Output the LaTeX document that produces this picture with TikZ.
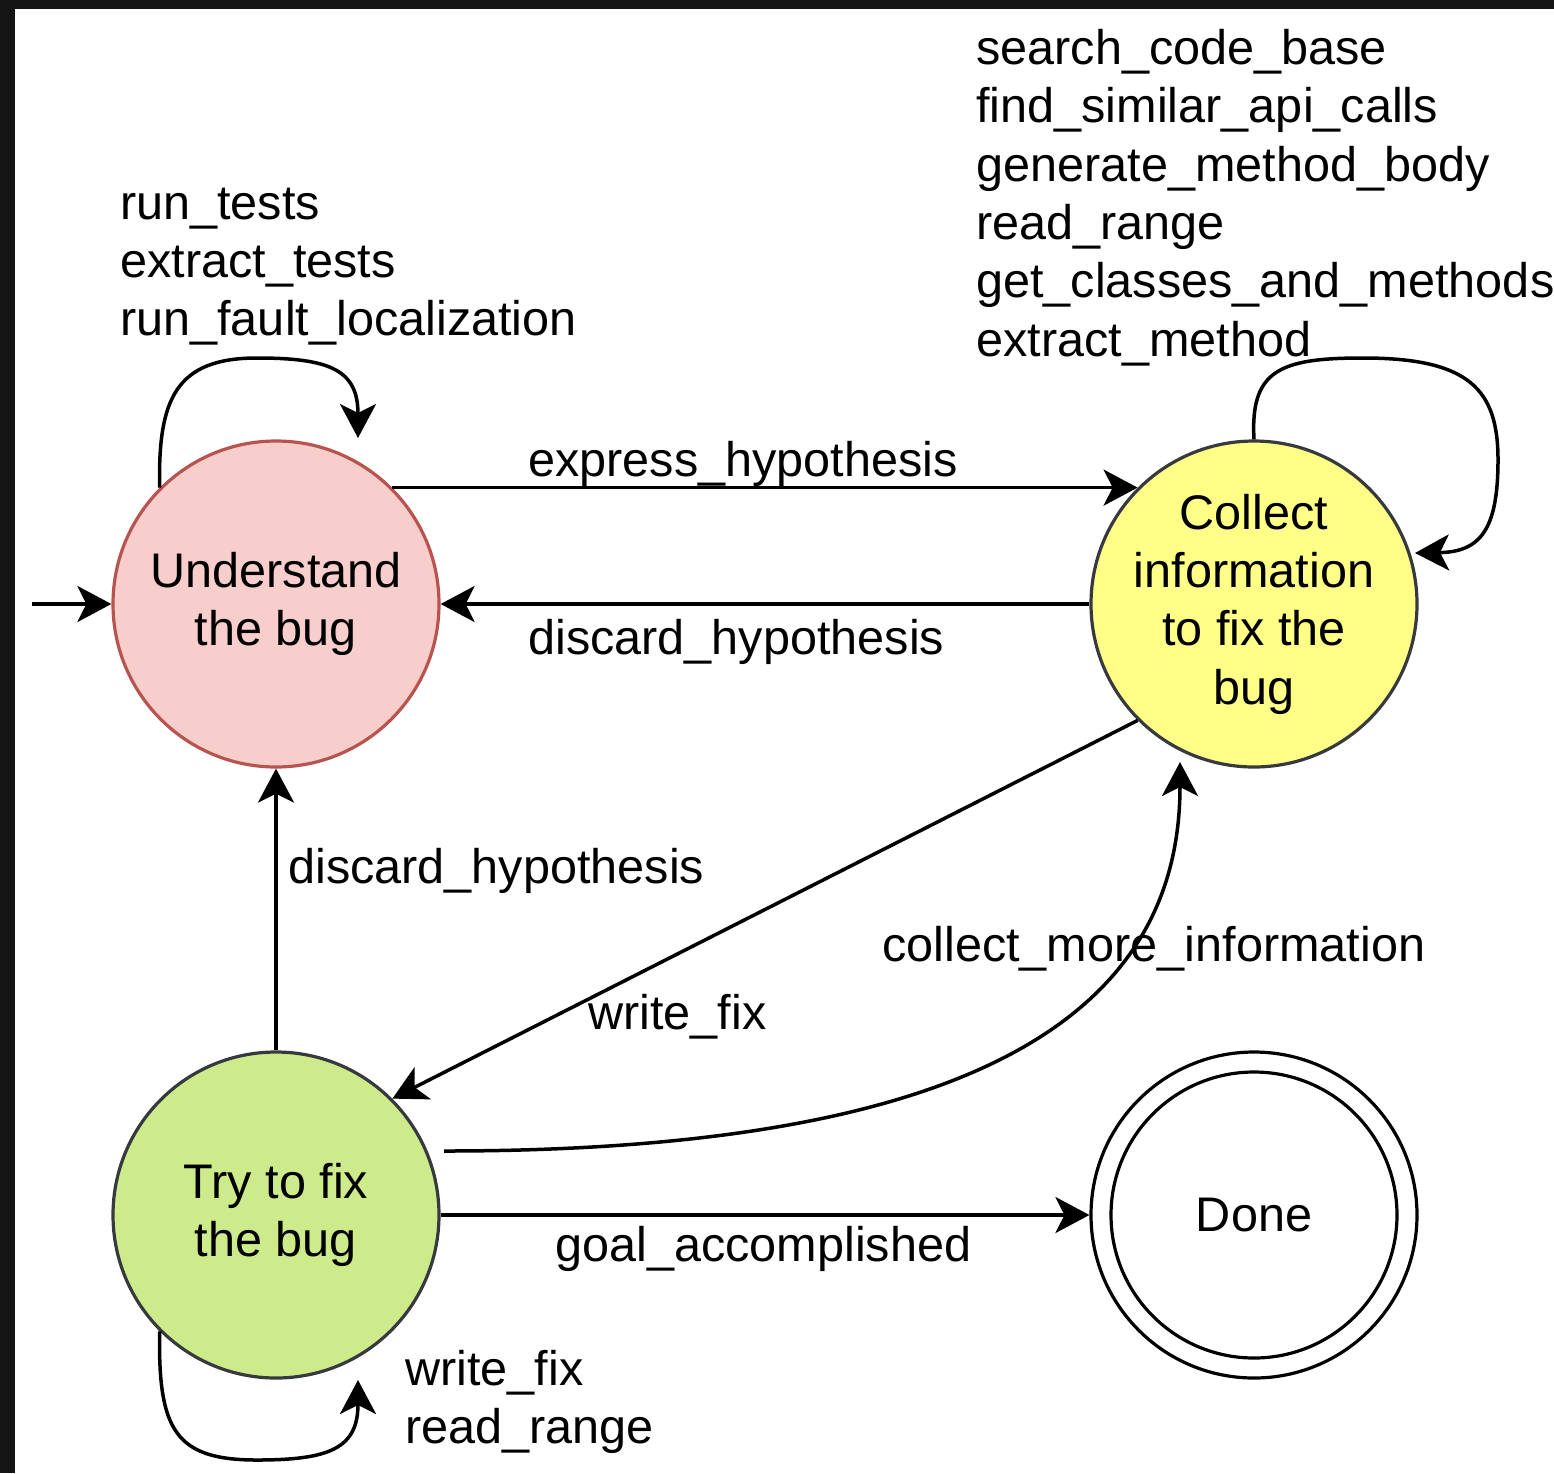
\documentclass[tikz,border=0pt]{standalone}
\usepackage{fontspec}
\setmainfont{Liberation Sans}
\usetikzlibrary{arrows.meta,calc}
\definecolor{framegrey}{HTML}{141414}
\definecolor{redfill}{HTML}{F8CECC}
\definecolor{redline}{HTML}{B85450}
\definecolor{yellowfill}{HTML}{FFFF88}
\definecolor{greenfill}{HTML}{CDEB8B}
\definecolor{greyline}{HTML}{36393D}
\begin{document}
\begin{tikzpicture}[x=1pt,y=-1pt,
  every node/.style={font=\fontsize{48.6}{58.3}\selectfont, inner sep=0pt},
  state/.style={circle, minimum size=326pt, line width=3.2pt, align=center},
  edge/.style={line width=3.5pt, -{Stealth[length=34pt,width=36pt,inset=9pt]}},
  lbl/.style={anchor=base west},
  lblock/.style={anchor=west, align=left}]

\useasboundingbox (0,0) rectangle (1554,1473);
% dark frame strips along the top and left edges
\fill[framegrey] (0,0) rectangle (1554,9);
\fill[framegrey] (0,0) rectangle (15,1473);

% states
\node[state, fill=redfill, draw=redline] (U) at (276,604) {Understand\\the bug};
\node[state, fill=yellowfill, draw=greyline] (C) at (1254,604) {Collect\\information\\to fix the\\bug};
\node[state, fill=greenfill, draw=greyline] (T) at (276,1215) {Try to fix\\the bug};
\node[state, fill=white, draw=black] (D) at (1254,1215) {Done};
\draw[line width=3.2pt] (D.center) circle[radius=143pt];

% initial arrow
\coordinate (init) at (32,604);
\draw[edge] (init) -- (U.west);

% transitions between states
\draw[edge] (U.45) -- (C.135);
\draw[edge] (C.west) -- (U.east);
\draw[edge] (T.north) -- (U.south);
\draw[edge] (C.225) -- (T.45);
\draw[edge] (T.east) -- (D.west);
\draw[edge] ($(T.center)+(168,-64)$) .. controls (1000,1151) and (1180,1000) .. ($(C.center)+(-74,158)$);

% self loops
\draw[edge] (U.135) .. controls (158,400) and (175,358) .. (257,358)
  .. controls (330,358) and (358,370) .. ($(U.center)+(82,-166)$);
\draw[edge] (T.225) .. controls (158,1430) and (175,1460) .. (257,1460)
  .. controls (330,1460) and (358,1448) .. ($(T.center)+(82,165)$);
\draw[edge] (C.north) .. controls (1250,370) and (1280,358) .. (1363,358)
  .. controls (1470,358) and (1498,390) .. (1498,460)
  .. controls (1498,530) and (1480,552) .. ($(C.center)+(161,-51)$);

% transition labels
\node[lblock] (lu) at (120,266) {\strut run\_tests\\\strut extract\_tests\\\strut run\_fault\_localization};
\node[lblock] (lc) at (976,198.6) {\strut search\_code\_base\\\strut find\_similar\_api\_calls\\\strut generate\_method\_body\\\strut read\_range\\\strut get\_classes\_and\_methods\\\strut extract\_method};
\node[lblock] (lt) at (405,1402.5) {\strut write\_fix\\\strut read\_range};
\node[lbl] (lexp) at (528,476) {express\_hypothesis};
\node[lbl] (ldis) at (528,654) {discard\_hypothesis};
\node[lbl] (ldis2) at (288,883) {discard\_hypothesis};
\node[lbl] (lwf) at (588,1029) {write\_fix};
\node[lbl] (lcmi) at (882,961) {collect\_more\_information};
\node[lbl] (lgoal) at (555,1261) {goal\_accomplished};
\end{tikzpicture}
\end{document}
